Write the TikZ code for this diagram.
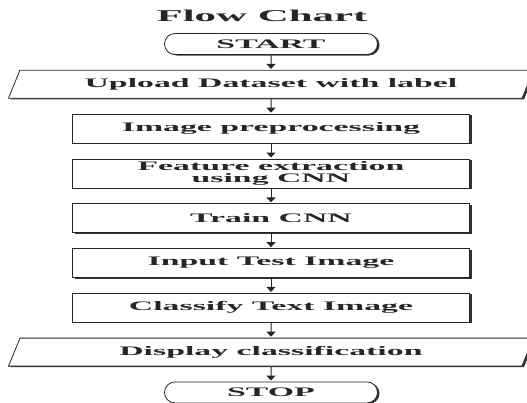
\documentclass[tikz,border=0pt]{standalone}
\usepackage{fontspec}
\newfontfamily\chartfont{Liberation Serif}[FakeStretch=2.6]
\usetikzlibrary{positioning,shapes.geometric,shapes.misc,shadows,arrows.meta}

\begin{document}
\begin{tikzpicture}[
  node distance=15pt,
  heavy/.style={drop shadow={shadow xshift=2pt, shadow yshift=-1pt, fill=black!80, opacity=1}},
  txt/.style={font=\chartfont\bfseries\fontsize{13}{11.5}\selectfont, text=black!85},
  term/.style={rounded rectangle, draw=black!85, line width=0.8pt, fill=white, heavy, txt, minimum width=213pt, minimum height=21pt, inner sep=0pt},
  io/.style={trapezium, trapezium left angle=46, trapezium right angle=134, trapezium stretches body, draw=black!85, line width=0.8pt, fill=white, heavy, txt, minimum width=525pt, minimum height=28pt, inner sep=0pt},
  box/.style={rectangle, draw=black!85, line width=0.8pt, fill=white, heavy, txt, align=center, minimum width=397pt, minimum height=29pt, inner sep=1pt},
  arrow/.style={-{Triangle[length=5pt,width=9pt]}, line width=1pt, black!85, shorten >=1pt}
]
  \useasboundingbox (0,0) rectangle (527pt,-402pt);

  \node[txt, font=\chartfont\bfseries\fontsize{16.5}{18}\selectfont] (title) at (262pt,-16pt) {Flow Chart};

  \node[term] (start) at (271pt,-44pt) {START};
  \node[io, below=of start] (upload) {Upload Dataset with label};
  \node[box, below=of upload] (prep) {Image preprocessing};
  \node[box, below=of prep] (feat) {Feature extraction\\using CNN};
  \node[box, below=of feat] (train) {Train CNN};
  \node[box, below=of train] (input) {Input Test Image};
  \node[box, below=of input] (classify) {Classify Text Image};
  \node[io, below=of classify] (display) {Display classification};
  \node[term, below=of display] (stop) {STOP};

  \draw[arrow] (start) -- (upload);
  \draw[arrow] (upload) -- (prep);
  \draw[arrow] (prep) -- (feat);
  \draw[arrow] (feat) -- (train);
  \draw[arrow] (train) -- (input);
  \draw[arrow] (input) -- (classify);
  \draw[arrow] (classify) -- (display);
  \draw[arrow] (display) -- (stop);
\end{tikzpicture}
\end{document}
